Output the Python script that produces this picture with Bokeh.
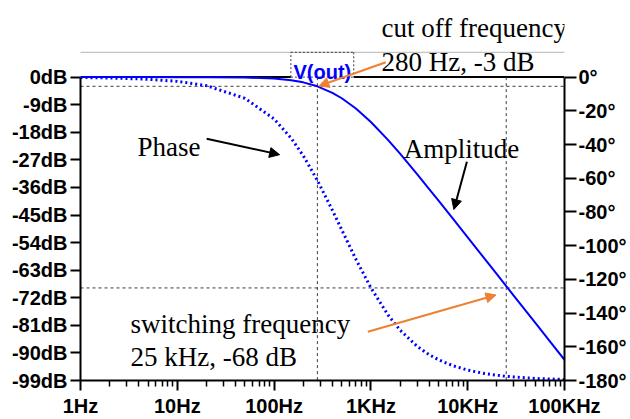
from bokeh.plotting import figure
from bokeh.models import Range1d, LinearAxis, FixedTicker, Span, Arrow, NormalHead, Label
from bokeh.embed import file_html
from bokeh.resources import INLINE

# ---- data ----
freq_hz = [1, 2, 5, 10, 20, 50, 100, 150, 200, 280, 400, 500, 700, 1000, 1500,
           2000, 3000, 4000, 5000, 7000, 10000, 15000, 20000, 25000, 30000,
           50000, 70000, 100000]
amplitude_db = [0.0, 0.0, 0.0, -0.01, -0.02, -0.12, -0.48, -1.02, -1.71, -3.0,
                -5.12, -6.9, -10.26, -14.66, -20.49, -24.99, -31.66, -36.52,
                -40.34, -46.12, -52.29, -59.32, -64.31, -68.18, -71.35,
                -80.22, -86.07, -92.26]
phase_deg = [-0.25, -0.5, -1.27, -2.54, -5.06, -12.6, -24.8, -36.2, -46.6,
             -61.3, -79.0, -90.6, -108.1, -125.0, -141.1, -150.1, -159.7,
             -164.7, -167.7, -171.2, -173.8, -175.9, -176.9, -177.5, -177.9,
             -178.8, -179.1, -179.4]

x_ticks = [1, 10, 100, 1000, 10000, 100000]
x_labels = ["1Hz", "10Hz", "100Hz", "1KHz", "10KHz", "100KHz"]
x_minor = [m * d for d in [1, 10, 100, 1000, 10000] for m in range(2, 10)]
db_ticks = [0, -9, -18, -27, -36, -45, -54, -63, -72, -81, -90, -99]
db_labels = ["0dB", "-9dB", "-18dB", "-27dB", "-36dB", "-45dB", "-54dB",
             "-63dB", "-72dB", "-81dB", "-90dB", "-99dB"]
deg_ticks = [0, -20, -40, -60, -80, -100, -120, -140, -160, -180]
deg_labels = ["0°", "-20°", "-40°", "-60°", "-80°", "-100°", "-120°",
              "-140°", "-160°", "-180°"]

cutoff_hz = 280
cutoff_db = -3
switch_hz = 25000
switch_db = -68.8

BLUE = "#0000ff"
ORANGE = "#ee8033"
GUIDE = "#3c3c3c"
SANS = "Liberation Sans"
SERIF = "Liberation Serif"

# the frame reaches up to the top of the canvas so that the annotations
# above 0 dB are drawn; the axes are bounded to the real data ranges
p = figure(width=630, height=419, x_axis_type="log",
           x_range=Range1d(1, 100000), y_range=Range1d(-99, 25.0),
           output_backend="svg", toolbar_location=None,
           min_border_left=80, min_border_right=66,
           min_border_top=0, min_border_bottom=37)
p.extra_y_ranges = {"phase": Range1d(-180, 45.44)}
p.grid.visible = False
p.outline_line_color = None
p.background_fill_color = "white"
p.border_fill_color = "white"


def style_axis(ax, tick_out, standoff):
    ax.axis_line_color = "black"
    ax.axis_line_width = 2
    ax.major_tick_line_color = "black"
    ax.major_tick_line_width = 2
    ax.major_tick_in = 0
    ax.major_tick_out = tick_out
    ax.minor_tick_line_color = "black"
    ax.minor_tick_line_width = 1.5
    ax.minor_tick_in = 0
    ax.minor_tick_out = 6
    ax.major_label_text_font = SANS
    ax.major_label_text_font_style = "bold"
    ax.major_label_text_font_size = "20px"
    ax.major_label_text_color = "black"
    ax.major_label_standoff = standoff


xa = p.xaxis[0]
xa.ticker = FixedTicker(ticks=x_ticks, minor_ticks=x_minor)
xa.major_label_overrides = {t: l for t, l in zip(x_ticks, x_labels)}
style_axis(xa, 10, 4)

ya = p.yaxis[0]
ya.ticker = FixedTicker(ticks=db_ticks)
ya.bounds = (db_ticks[-1], db_ticks[0])
ya.major_label_overrides = {t: l for t, l in zip(db_ticks, db_labels)}
style_axis(ya, 10, 3)

ra = LinearAxis(y_range_name="phase")
ra.ticker = FixedTicker(ticks=deg_ticks)
ra.bounds = (deg_ticks[-1], deg_ticks[0])
ra.major_label_overrides = {t: l for t, l in zip(deg_ticks, deg_labels)}
style_axis(ra, 12, 2)
p.add_layout(ra, "right")

# top border of the frame (interrupted by the V(out) box)
for xs, xe in [(1, 149), (665, 100000)]:
    p.add_layout(Arrow(start=None, end=None, x_start=xs, y_start=0, x_end=xe,
                       y_end=0, line_color="black", line_width=2,
                       level="underlay"))

# dashed guide lines
for loc in [cutoff_db, switch_db]:
    p.add_layout(Span(location=loc, dimension="width", line_color=GUIDE,
                      line_width=1, line_dash="3 3", level="underlay"))
p.segment(x0=[cutoff_hz, switch_hz], y0=[db_ticks[0]] * 2,
          x1=[cutoff_hz, switch_hz], y1=[db_ticks[-1]] * 2,
          line_color=GUIDE, line_width=1, line_dash="3 3")

# curves
p.line(freq_hz, amplitude_db, line_color=BLUE, line_width=2)
p.line(freq_hz, phase_deg, y_range_name="phase", line_color=BLUE,
       line_width=3, line_dash="2 3")

# gray separator line at the top
p.add_layout(Arrow(start=None, end=None, x_start=0.2, y_start=8.1,
                   x_end=460000, y_end=8.1, line_color="#b4b4b4",
                   line_width=1))

# V(out) dotted box
box = [(149, 0, 149, 8.1), (149, 8.1, 665, 8.1), (665, 8.1, 665, 0),
       (149, 0, 665, 0)]
for xs, ys, xe, ye in box:
    p.add_layout(Arrow(start=None, end=None, x_start=xs, y_start=ys,
                       x_end=xe, y_end=ye, line_color=GUIDE,
                       line_width=1, line_dash="2 2"))
p.add_layout(Label(x=315, y=1.6, text="V(out)", text_align="center",
                   text_baseline="alphabetic", text_font=SANS,
                   text_font_style="bold", text_font_size="20px",
                   text_color=BLUE))

# text annotations
texts = [
    (1290, 15.9, "cut off frequency"),
    (1290, 4.87, "280 Hz, -3 dB"),
    (3.89, -22.7, "Phase"),
    (2188, -23.4, "Amplitude"),
    (3.29, -80.5, "switching frequency"),
    (3.29, -91.2, "25 kHz, -68 dB"),
]
for x, y, t in texts:
    p.add_layout(Label(x=x, y=y, text=t, text_align="left",
                       text_baseline="alphabetic", text_font=SERIF,
                       text_font_size="27px", text_color="black"))

# arrows
arrows = [
    (1426, 4.87, 290, -2.9, ORANGE),
    (20.1, -20.1, 114, -25.3, "black"),
    (9812, -27.6, 7197, -43.2, "black"),
    (929, -83.1, 19580, -71.1, ORANGE),
]
for xs, ys, xe, ye, c in arrows:
    p.add_layout(Arrow(end=NormalHead(size=10, fill_color=c, line_color=c),
                       x_start=xs, y_start=ys, x_end=xe, y_end=ye,
                       line_color=c, line_width=2))

open("out.html", "w").write(file_html(p, INLINE))
